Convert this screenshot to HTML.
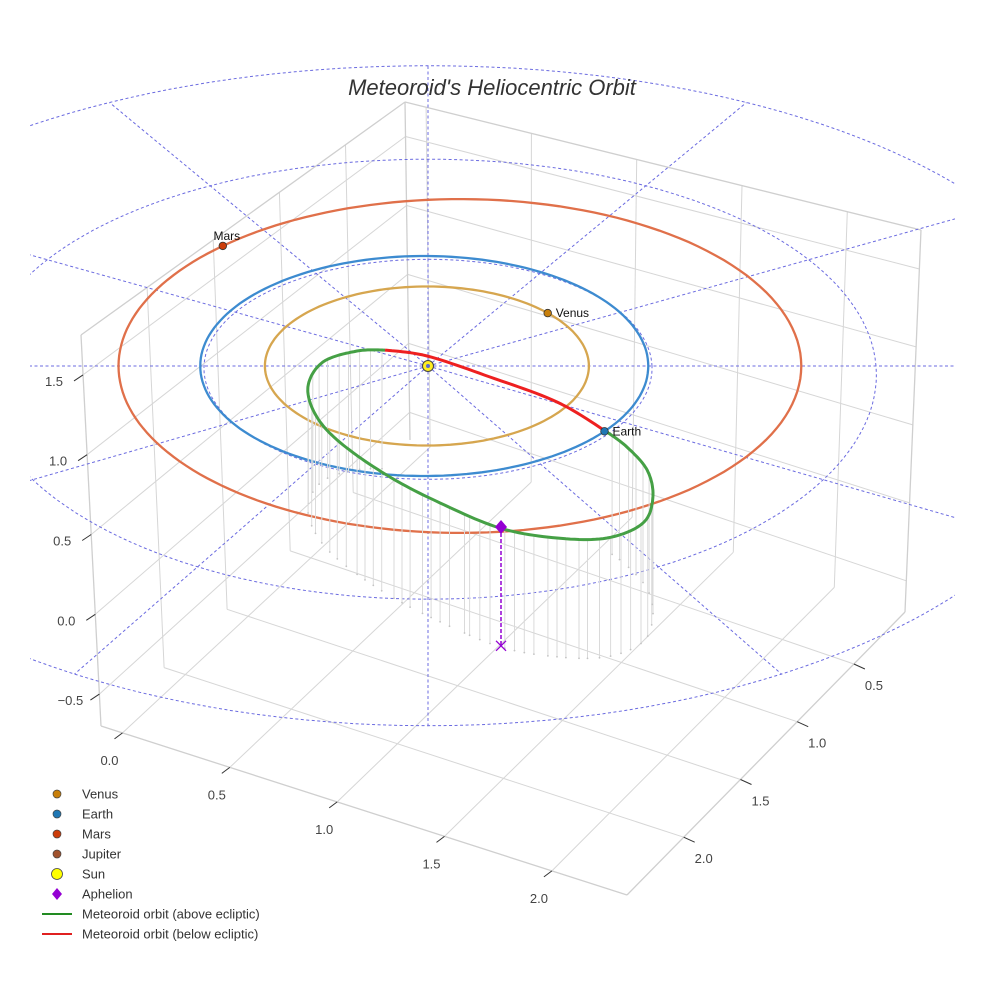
<!DOCTYPE html>
<html>
<head>
<meta charset="utf-8">
<style>
  html,body{margin:0;padding:0;background:#fff;}
  svg{display:block;font-family:"Liberation Sans",sans-serif;}
</style>
</head>
<body>
<svg id="chart" width="984" height="984" viewBox="0 0 984 984" xmlns="http://www.w3.org/2000/svg">
  <defs>
    <clipPath id="plotClip"><rect x="30" y="0" width="925" height="984"/></clipPath>
  </defs>
  <g id="box"></g>
  <g id="polar" clip-path="url(#plotClip)"></g>
  <g id="orbits"></g>
  <g id="meteor"></g>
  <g id="marks"></g>
  <text x="492" y="95" text-anchor="middle" font-size="22" font-style="italic" fill="#333">Meteoroid's Heliocentric Orbit</text>
  <g id="legend"></g>
</svg>
<script>
// ---- data ----
const planetNames = ['Venus', 'Earth', 'Mars'];
const planetSemiMajor = [0.723, 1.0, 1.524];
const planetEcc = [0.0068, 0.0167, 0.0934];
const planetPeriDir = [0, 0, 180];
const planetPosAngle = [42, -37, 130];
const planetOrbitColors = ['#d6a64f', '#3d8bd0', '#e0704a'];
const planetDotColors = ['#c87f0a', '#1f77b4', '#cc3d0a'];

// meteoroid track in ecliptic coordinates (AU)
const aboveX = [-0.192, -0.317, -0.469, -0.536, -0.496, -0.379, -0.170, 0.054, 0.321, 0.576, 0.799, 0.960, 1.004, 0.978, 0.888, 0.799];
const aboveY = [0.145, 0.136, 0.036, -0.191, -0.464, -0.718, -1.009, -1.245, -1.473, -1.564, -1.564, -1.427, -1.191, -0.945, -0.736, -0.600];
const belowX = [-0.192, -0.004, 0.277, 0.576, 0.799];
const belowY = [0.145, 0.091, -0.100, -0.327, -0.600];
const aphelionX = 0.326;
const aphelionY = -1.464;
const floorZ = -0.72;

const xTicks = [0, 0.5, 1, 1.5, 2];
const yTicks = [0.5, 1, 1.5, 2];
const zTicks = [-0.5, 0, 0.5, 1, 1.5];
const xTickLabels = ['0.0', '0.5', '1.0', '1.5', '2.0'];
const yTickLabels = ['0.5', '1.0', '1.5', '2.0'];
const zTickLabels = ['\u22120.5', '0.0', '0.5', '1.0', '1.5'];
const xRange = [-0.1, 2.35];
const yRange = [0.05, 2.5];
const zRange = [-0.7, 1.75];

const gridRings = [1, 2, 3];
const gridSpokes = [0, 30, 60, 90, 120, 150, 180, 210, 240, 270, 300, 330];

const legendLabels = ['Venus', 'Earth', 'Mars', 'Jupiter', 'Sun', 'Aphelion', 'Meteoroid orbit (above ecliptic)', 'Meteoroid orbit (below ecliptic)'];

// ---- helpers ----
const NS = 'http://www.w3.org/2000/svg';
function mk(parent, tag, attrs) {
  const e = document.createElementNS(NS, tag);
  for (const k in attrs) e.setAttribute(k, attrs[k]);
  parent.appendChild(e);
  return e;
}
const rad = d => d * Math.PI / 180;
const CX = 428, CY = 366, SX = 224, SY = 110, SZ = 165;
function P(X, Y, Z) { return [CX + SX * X, CY - SY * Y - SZ * (Z || 0)]; }
function GP(X, Y) { return [CX + SX * X * (1 - 0.02 * Y), CY - SY * Y * (1 - 0.03 * Y)]; }

const B0 = { a: [410, 440], b: [905, 612], c: [101, 726], d: [627, 895] };
const T0 = { a: [405, 102], b: [921, 230], c: [81, 335], d: [605, 470] };
function bil(F, u, v) {
  const x = F.a[0] * (1 - u) * (1 - v) + F.b[0] * u * (1 - v) + F.c[0] * (1 - u) * v + F.d[0] * u * v;
  const y = F.a[1] * (1 - u) * (1 - v) + F.b[1] * u * (1 - v) + F.c[1] * (1 - u) * v + F.d[1] * u * v;
  return [x, y];
}
function BX(x, y, z) {
  const u = (x - xRange[0]) / (xRange[1] - xRange[0]);
  const v = (y - yRange[0]) / (yRange[1] - yRange[0]);
  const w = (z - zRange[0]) / (zRange[1] - zRange[0]);
  const b = bil(B0, u, v), t = bil(T0, u, v);
  return [b[0] + (t[0] - b[0]) * w, b[1] + (t[1] - b[1]) * w];
}
function line(g, p, q, attrs) {
  return mk(g, 'line', Object.assign({ x1: p[0].toFixed(1), y1: p[1].toFixed(1), x2: q[0].toFixed(1), y2: q[1].toFixed(1) }, attrs));
}
function spline(xs, ys, per) {
  const out = [];
  const n = xs.length;
  for (let i = 0; i < n - 1; i++) {
    const i0 = Math.max(i - 1, 0), i3 = Math.min(i + 2, n - 1);
    for (let s = 0; s < per; s++) {
      const t = s / per, t2 = t * t, t3 = t2 * t;
      const f = (a, b, c, d) => 0.5 * ((2 * b) + (-a + c) * t + (2 * a - 5 * b + 4 * c - d) * t2 + (-a + 3 * b - 3 * c + d) * t3);
      out.push([f(xs[i0], xs[i], xs[i + 1], xs[i3]), f(ys[i0], ys[i], ys[i + 1], ys[i3])]);
    }
  }
  out.push([xs[n - 1], ys[n - 1]]);
  return out;
}

// ---- box grid ----
const box = document.getElementById('box');
const gA = { stroke: '#d6d6d6', 'stroke-width': 1 };
const [x0, x1] = xRange, [y0, y1] = yRange, [z0, z1] = zRange;
xTicks.forEach(x => { const l = line(box, BX(x, y0, z0), BX(x, y1, z0), gA);
    });
yTicks.forEach(y => { const l = line(box, BX(x0, y, z0), BX(x1, y, z0), gA);
    });
zTicks.forEach(z => { const l = line(box, BX(x0, y0, z), BX(x0, y1, z), gA);
    });
yTicks.forEach(y => { const l = line(box, BX(x0, y, z0), BX(x0, y, z1), gA);
    });
zTicks.forEach(z => { const l = line(box, BX(x0, y0, z), BX(x1, y0, z), gA);
    });
xTicks.forEach(x => { const l = line(box, BX(x, y0, z0), BX(x, y0, z1), gA);
    });
const eA = { stroke: '#cfcfcf', 'stroke-width': 1.3 };
[[BX(x0, y0, z1), BX(x1, y0, z1)], [BX(x0, y0, z1), BX(x0, y1, z1)], [BX(x0, y0, z0), BX(x0, y0, z1)],
 [BX(x1, y0, z0), BX(x1, y0, z1)], [BX(x0, y1, z0), BX(x0, y1, z1)],
 [BX(x0, y1, z0), BX(x1, y1, z0)], [BX(x1, y0, z0), BX(x1, y1, z0)]].forEach(s => {
  const l = line(box, s[0], s[1], eA);
   
});
const tA = { stroke: '#333', 'stroke-width': 1 };
xTicks.forEach((x, i) => {
  const p = BX(x, y1, z0);
  const t = line(box, p, [p[0] - 8, p[1] + 6], tA);
   
  const lb = mk(box, 'text', { x: (p[0] - 13).toFixed(1), y: (p[1] + 32).toFixed(1), 'text-anchor': 'middle', 'font-size': 13, fill: '#444' });
  lb.textContent = xTickLabels[i];
   
});
yTicks.forEach((y, i) => {
  const p = BX(x1, y, z0);
  const t = line(box, p, [p[0] + 11, p[1] + 5], tA);
   
  const lb = mk(box, 'text', { x: (p[0] + 20).toFixed(1), y: (p[1] + 26).toFixed(1), 'text-anchor': 'middle', 'font-size': 13, fill: '#444' });
  lb.textContent = yTickLabels[i];
   
});
zTicks.forEach((z, i) => {
  const p = BX(x0, y1, z);
  const t = line(box, p, [p[0] - 9, p[1] + 6], tA);
   
  const lb = mk(box, 'text', { x: (p[0] - 29).toFixed(1), y: (p[1] + 11).toFixed(1), 'text-anchor': 'middle', 'font-size': 13, fill: '#444' });
  lb.textContent = zTickLabels[i];
   
});

// ---- polar dashed grid ----
const polar = document.getElementById('polar');
const dA = { fill: 'none', stroke: '#6b6be0', 'stroke-width': 1, 'stroke-dasharray': '3,2.5' };
gridRings.forEach(r => {
  let d = '';
  for (let a = 0; a <= 360; a += 2) {
    const p = GP(r * Math.cos(rad(a)), r * Math.sin(rad(a)));
    d += (a ? 'L' : 'M') + p[0].toFixed(1) + ',' + p[1].toFixed(1);
  }
  const e = mk(polar, 'path', Object.assign({ d: d }, dA));
   
});
gridSpokes.forEach(a => {
  const R = gridRings[gridRings.length - 1];
  const p = GP(0, 0), q = GP(R * Math.cos(rad(a)), R * Math.sin(rad(a)));
  const e = line(polar, p, q, dA);
   
});

// ---- planet orbits ----
const orbits = document.getElementById('orbits');
function planetR(i, th) {
  const a = planetSemiMajor[i], e = planetEcc[i];
  return a * (1 - e * e) / (1 + e * Math.cos(rad(th - planetPeriDir[i])));
}
planetNames.forEach((n, i) => {
  let d = '';
  for (let th = 0; th <= 360; th += 2) {
    const r = planetR(i, th);
    const p = P(r * Math.cos(rad(th)), r * Math.sin(rad(th)), 0);
    d += (th ? 'L' : 'M') + p[0].toFixed(1) + ',' + p[1].toFixed(1);
  }
  const e = mk(orbits, 'path', { d: d, fill: 'none', stroke: planetOrbitColors[i], 'stroke-width': 2.3 });
   
});

// ---- meteoroid orbit ----
const meteor = document.getElementById('meteor');
const gPts = spline(aboveX, aboveY, 12);
const rPts = spline(belowX, belowY, 12);
{
  let acc = 0, next = 2;
  for (let i = 1; i < gPts.length; i++) {
    const a = P(gPts[i - 1][0], gPts[i - 1][1], 0), b = P(gPts[i][0], gPts[i][1], 0);
    acc += Math.hypot(b[0] - a[0], b[1] - a[1]);
    if (acc >= next) {
      next += 11;
      const top = P(gPts[i][0], gPts[i][1], 0), bot = P(gPts[i][0], gPts[i][1], floorZ);
      const l = line(meteor, top, bot, { stroke: '#dadada', 'stroke-width': 1 });
       
      const c = mk(meteor, 'circle', { cx: bot[0].toFixed(1), cy: bot[1].toFixed(1), r: 0.9, fill: '#c4c4c4' });
       
    }
  }
}
function toPath(pts) {
  return pts.map((q, i) => { const p = P(q[0], q[1], 0); return (i ? 'L' : 'M') + p[0].toFixed(1) + ',' + p[1].toFixed(1); }).join('');
}
const gPath = mk(meteor, 'path', { d: toPath(gPts), fill: 'none', stroke: '#45a045', 'stroke-width': 3, 'stroke-linejoin': 'round' });
 
const rPath = mk(meteor, 'path', { d: toPath(rPts), fill: 'none', stroke: '#ee2020', 'stroke-width': 3, 'stroke-linejoin': 'round' });
 

// ---- bodies ----
const marks = document.getElementById('marks');
const aTop = P(aphelionX, aphelionY, 0), aBot = P(aphelionX, aphelionY, floorZ);
const aLine = line(marks, aTop, aBot, { stroke: '#9400d3', 'stroke-width': 1.5, 'stroke-dasharray': '4,2' });
 
const xm = mk(marks, 'path', { d: `M${aBot[0] - 5},${aBot[1] - 5}L${aBot[0] + 5},${aBot[1] + 5}M${aBot[0] - 5},${aBot[1] + 5}L${aBot[0] + 5},${aBot[1] - 5}`, stroke: '#9400d3', 'stroke-width': 1.3, fill: 'none' });
 
const dm = mk(marks, 'path', { d: `M${aTop[0]},${aTop[1] - 7}L${aTop[0] + 6},${aTop[1]}L${aTop[0]},${aTop[1] + 7}L${aTop[0] - 6},${aTop[1]}Z`, fill: '#9400d3' });
 
planetNames.forEach((n, i) => {
  const th = planetPosAngle[i];
  const r = planetR(i, th);
  const p = P(r * Math.cos(rad(th)), r * Math.sin(rad(th)), 0);
  const c = mk(marks, 'circle', { cx: p[0].toFixed(1), cy: p[1].toFixed(1), r: 3.8, fill: planetDotColors[i], stroke: '#333', 'stroke-width': 0.8 });
   
  const t = mk(marks, 'text', { 'font-size': 12, fill: '#111' });
  if (n === 'Mars') { t.setAttribute('x', (p[0] + 4).toFixed(1)); t.setAttribute('y', (p[1] - 6).toFixed(1)); t.setAttribute('text-anchor', 'middle'); }
  else { t.setAttribute('x', (p[0] + 8).toFixed(1)); t.setAttribute('y', (p[1] + 4).toFixed(1)); }
  t.textContent = n;
   
});
const sp = P(0, 0, 0);
const sun = mk(marks, 'circle', { cx: sp[0], cy: sp[1], r: 5.5, fill: '#ffee22', stroke: '#444', 'stroke-width': 1 });
 
const sunC = mk(marks, 'circle', { cx: sp[0], cy: sp[1], r: 2, fill: '#5b6bd0' });
 

// ---- legend ----
const legend = document.getElementById('legend');
legendLabels.forEach((lab, i) => {
  const y = 794 + i * 20;
  const g = mk(legend, 'g', {});
   
  let m;
  if (i < 4) {
    const cols = ['#c87f0a', '#1f77b4', '#cc3d0a', '#a0522d'];
    m = mk(g, 'circle', { cx: 57, cy: y, r: 4, fill: cols[i], stroke: '#444', 'stroke-width': 0.7 });
  } else if (i === 4) {
    m = mk(g, 'circle', { cx: 57, cy: y, r: 5.5, fill: '#ffff00', stroke: '#444', 'stroke-width': 0.8 });
  } else if (i === 5) {
    m = mk(g, 'path', { d: `M57,${y - 6}L62,${y}L57,${y + 6}L52,${y}Z`, fill: '#9400d3' });
  } else {
    m = mk(g, 'line', { x1: 42, y1: y, x2: 72, y2: y, stroke: i === 6 ? '#228b22' : '#e02020', 'stroke-width': 2 });
  }
   
  const t = mk(g, 'text', { x: 82, y: y + 4.5, 'font-size': 13, fill: '#333' });
  t.textContent = lab;
   
});
</script>
</body>
</html>
